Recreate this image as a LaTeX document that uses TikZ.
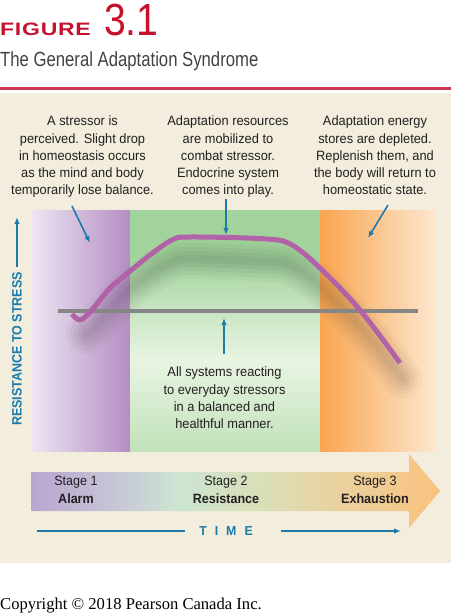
\documentclass[tikz,border=0pt]{standalone}
\usepackage{fontspec}
\setmainfont{Liberation Sans}
\newfontfamily\cf[FakeStretch=0.95]{Liberation Sans}
\newfontfamily\tf[FakeStretch=0.815]{Liberation Sans}
\newfontfamily\wf[FakeStretch=1.28,LetterSpace=4]{Liberation Sans}
\newfontfamily\nf[FakeStretch=0.93]{Liberation Sans}
\newfontfamily\yf[FakeStretch=0.92]{Liberation Sans}
\newfontfamily\numf[FakeStretch=0.87]{Liberation Sans}
\newfontfamily\serfont{Liberation Serif}
\usetikzlibrary{arrows.meta}
\definecolor{figred}{HTML}{C4122F}
\definecolor{beige}{HTML}{F2EDDC}
\definecolor{txt}{HTML}{231F20}
\definecolor{blu}{HTML}{1B7BAA}
\definecolor{mag}{HTML}{B262A8}
\definecolor{base}{HTML}{868686}
\definecolor{pl}{HTML}{EDE5F2}
\definecolor{pr}{HTML}{B48DC2}
\definecolor{ol}{HTML}{F8A54F}
\definecolor{or}{HTML}{FEE7CF}
\definecolor{gtop}{HTML}{A2D39C}
\definecolor{glight}{HTML}{E8F4E2}
\definecolor{gbot}{HTML}{C2E2BA}
\definecolor{ta}{HTML}{B9A5D0}
\definecolor{tb}{HTML}{C7C8D5}
\definecolor{tc}{HTML}{CCE5D2}
\definecolor{td}{HTML}{D9DFB8}
\definecolor{te}{HTML}{E9D2A0}
\definecolor{tf}{HTML}{F9C27E}
\pgfdeclarehorizontalshading{timeshade}{100bp}{color(0bp)=(ta); color(25bp)=(ta); color(36bp)=(tb); color(43bp)=(tc); color(53bp)=(td); color(62bp)=(te); color(75bp)=(tf); color(100bp)=(tf)}
\pgfdeclareverticalshading{greenshade}{100bp}{color(0bp)=(gbot); color(25bp)=(gbot); color(44bp)=(glight); color(66bp)=(gtop); color(75bp)=(gtop); color(100bp)=(gtop)}
\tikzset{
  body/.style={font=\cf\fontsize{13.5}{17.2}\selectfont, text=txt, align=center, inner sep=0pt},
  blarrow/.style={draw=blu, line width=1.6pt, -{Latex[length=7pt,width=5.5pt]}},
  stagelbl/.style={font=\nf\fontsize{13.5}{17.6}\selectfont, text=txt, align=center, inner sep=0pt, anchor=north},
}
\begin{document}
\begin{tikzpicture}[x=1pt,y=1pt]
\useasboundingbox (0,0) rectangle (451,-613);
\fill[white] (0,0) rectangle (451,-613);
% header
\node[anchor=base west, inner sep=0pt, text=figred, font=\wf\bfseries\fontsize{18}{18}\selectfont] (fig) at (0,-35) {FIGURE};
\node[anchor=base west, inner sep=0pt, text=figred, font=\numf\fontsize{45}{45}\selectfont] (num) at (104,-35) {3.1};
\node[anchor=base west, inner sep=0pt, text=txt!85, font=\tf\fontsize{20.5}{22}\selectfont] (title) at (0,-66) {The General Adaptation Syndrome};
\fill[figred!85] (0,-87) rectangle (451,-89.5);
% background
\fill[beige] (0,-93) rectangle (451,-563);
% chart regions
\shade[left color=pl, right color=pr] (32,-210) rectangle (130,-451);
\shade[shading=greenshade] (130,-210) rectangle (320,-451);
\shade[left color=ol, right color=or] (320,-210) rectangle (436,-451);
% shadow of the curve
\foreach \w/\o in {40/0.025,32/0.03,24/0.035,16/0.04,8/0.04}{
  \draw[black, line width=\w pt, opacity=\o, line cap=round, line join=round]
    plot[smooth, tension=0.55] coordinates {(86,-334) (96,-326) (112,-306) (129,-290) (150,-274) (172,-262) (190,-259) (267,-262) (292,-266) (322,-288) (362,-328) (402,-378)};
}
% baseline
\draw[base, line width=3.5pt] (58,-311) -- (418,-311);
% curve
\draw[mag, line width=5pt, line join=round]
  plot[smooth, tension=0.55] coordinates {(72,-314) (80,-320) (91,-311) (110,-288) (129,-272) (150,-255) (172,-240) (190,-237) (267,-239) (292,-245) (320,-268) (360,-310) (400,-363)};
% top texts
\node[body, anchor=north] (t1) at (82.5,-116) {A stressor is\\perceived. Slight drop\\in homeostasis occurs\\as the mind and body\\temporarily lose balance.};
\node[body, anchor=north] (t2) at (228,-116) {Adaptation resources\\are mobilized to\\combat stressor.\\Endocrine system\\comes into play.};
\node[body, anchor=north] (t3) at (375,-116) {Adaptation energy\\stores are depleted.\\Replenish them, and\\the body will return to\\homeostatic state.};
\node[body, anchor=north] (t4) at (224.5,-367) {All systems reacting\\to everyday stressors\\in a balanced and\\healthful manner.};
% arrows
\coordinate (a1s) at (72,-206);
\coordinate (a1e) at (90,-243);
\coordinate (a2s) at (226,-199);
\coordinate (a2e) at (226,-235);
\coordinate (a3s) at (388,-205);
\coordinate (a3e) at (368,-238);
\coordinate (a4s) at (224,-354);
\coordinate (a4e) at (224,-318);
\draw[blarrow] (a1s) -- (a1e);
\draw[blarrow] (a2s) -- (a2e);
\draw[blarrow] (a3s) -- (a3e);
\draw[blarrow] (a4s) -- (a4e);
% y axis label
\node[rotate=90, inner sep=0pt, text=blu, font=\yf\bfseries\fontsize{13.6}{15}\selectfont] (ylab) at (17,-349) {RESISTANCE TO STRESS};
\coordinate (ytop) at (17,-217);
\draw[blarrow, shorten <=5pt] (ylab.east) -- (ytop);
% time arrow band
\shade[shading=timeshade] (31,-472) -- (409,-472) -- (409,-454) -- (440,-491) -- (409,-528) -- (409,-511) -- (31,-511) -- cycle;
\node[stagelbl] (s1) at (76,-476) {Stage 1\\\textbf{Alarm}};
\node[stagelbl] (s2) at (226,-476) {Stage 2\\\textbf{Resistance}};
\node[stagelbl] (s3) at (375,-476) {Stage 3\\\textbf{Exhaustion}};
% TIME
\node[inner sep=0pt, text=blu, font=\cf\bfseries\fontsize{13}{14}\selectfont] (time) at (226,-531) {T\hspace{8pt}I\hspace{8pt}M\hspace{8pt}E};
\coordinate (tl) at (37,-531);
\coordinate (tle) at (185,-531);
\coordinate (trs) at (281,-531);
\coordinate (tr) at (401,-531);
\draw[blu, line width=1.6pt] (tl) -- (tle);
\draw[blarrow] (trs) -- (tr);
% copyright
\node[anchor=base west, inner sep=0pt, text=black, font=\serfont\fontsize{16.6}{18}\selectfont] (copy) at (0,-609) {Copyright © 2018 Pearson Canada Inc.};
\end{tikzpicture}
\end{document}
